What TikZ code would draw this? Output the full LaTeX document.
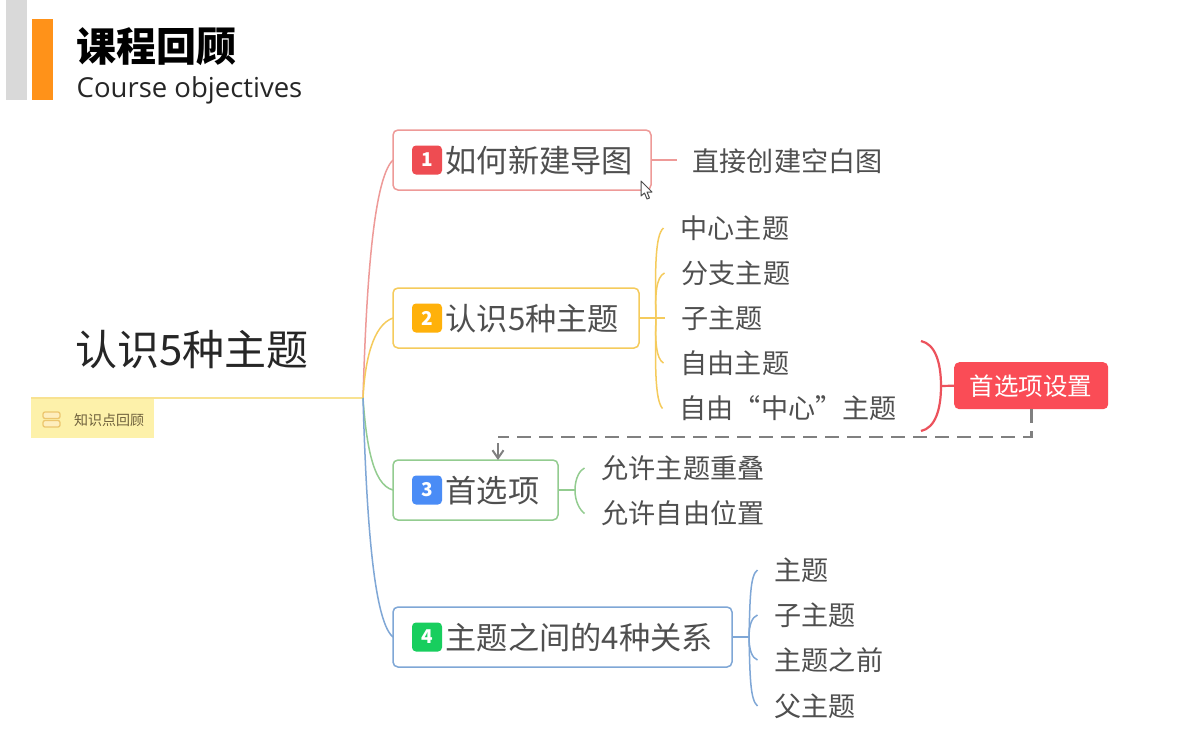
\documentclass[tikz,border=0pt]{standalone}
\usepackage{fontspec}
\setmainfont{Noto Sans CJK SC}
\newfontfamily\latinfont{Open Sans}
\usetikzlibrary{arrows.meta,calc}
\definecolor{cred}{HTML}{EE9A98}
\definecolor{cyel}{HTML}{F5CB5C}
\definecolor{cgrn}{HTML}{93CC90}
\definecolor{cblu}{HTML}{7FA7D6}
\definecolor{ink}{HTML}{4F4F4F}
\definecolor{bred}{HTML}{EE4C52}
\definecolor{byel}{HTML}{FFB10A}
\definecolor{bblu}{HTML}{4A8CF6}
\definecolor{bgrn}{HTML}{18CE5E}
\definecolor{brace}{HTML}{EC525C}
\definecolor{tagline}{HTML}{ECC66E}
\newcommand{\fs}[1]{\fontsize{#1}{#1}\selectfont}
\tikzset{
  x=1pt,y=-1pt,
  topicbox/.style={draw=#1,line width=1.5pt,rounded corners=5pt,fill=white,inner sep=0pt,outer sep=0pt},
  badge/.style={fill=#1,rounded corners=4pt,minimum width=30pt,minimum height=29pt,inner sep=0pt,text=white,font=\fs{19}\bfseries},
  topictext/.style={anchor=west,inner sep=0pt,text=ink,font=\fs{31.2}},
  leaf/.style={anchor=west,inner ysep=0pt,inner xsep=17pt,text=ink,font=\fs{27.1}},
  link/.style={draw=#1,line width=1.5pt},
}
\begin{document}
\begin{tikzpicture}
\useasboundingbox (0,0) rectangle (1179,729);
% header
\fill[white] (0,0) rectangle (1179,729);
\fill[black!15] (6,0) rectangle (27,100);
\fill[fill={rgb,255:red,255;green,146;blue,25}] (32,19) rectangle (53,100);
\node[anchor=west,inner sep=0pt,font=\fs{40}\bfseries] (title) at (76,47) {课程回顾};
\node[anchor=west,inner sep=0pt,font=\latinfont\fs{27.5},text=black!85] (sub) at (76.5,90.5) {Course objectives};
% root
\node[anchor=west,inner sep=0pt,font=\fs{42},text=black!85] (heading) at (75,350) {认识5种主题};
\node[anchor=north west,fill={rgb,255:red,253;green,241;blue,170},minimum width=123pt,minimum height=40pt,inner sep=0pt] (tag) at (31,398) {};
\draw[draw=tagline,fill={rgb,255:red,254;green,238;blue,190},line width=1.3pt,rounded corners=2pt] (43,412) rectangle (60,418.5);
\draw[draw=tagline,fill={rgb,255:red,254;green,238;blue,190},line width=1.3pt,rounded corners=2pt] (43,420.5) rectangle (60,427);
\node[anchor=west,inner sep=0pt,font=\fs{14},text={rgb,255:red,110;green,96;blue,60}] (tagtext) at (74,420) {知识点回顾};
\coordinate (root) at (363,398);
\draw[draw={rgb,255:red,248;green,226;blue,145},line width=2pt] (tag.north west) -- (root);
% topic boxes
\node[topicbox=cred,anchor=north west,minimum width=258pt,minimum height=60pt] (b1) at (393,130) {};
\node[topicbox=cyel,anchor=north west,minimum width=246pt,minimum height=60pt] (b2) at (393,288) {};
\node[topicbox=cgrn,anchor=north west,minimum width=165pt,minimum height=60pt] (b3) at (393,460) {};
\node[topicbox=cblu,anchor=north west,minimum width=339pt,minimum height=60pt] (b4) at (393,607) {};
\node[badge=bred] (n1) at (427,160) {1};
\node[badge=byel] (n2) at (427,318) {2};
\node[badge=bblu] (n3) at (427,490) {3};
\node[badge=bgrn] (n4) at (427,637) {4};
\node[topictext] (t1) at (445.5,161) {如何新建导图};
\node[topictext] (t2) at (445.5,318.5) {认识5种主题};
\node[topictext] (t3) at (445.5,491) {首选项};
\node[topictext] (t4) at (445.5,638) {主题之间的4种关系};
% root links
\draw[link=cred] (root) .. controls (366,300) and (372,180) .. (b1.west);
\draw[link=cyel] (root) .. controls (365,360) and (373,325) .. (b2.west);
\draw[link=cgrn] (root) .. controls (366,440) and (372,485) .. (b3.west);
\draw[link=cblu] (root) .. controls (366,500) and (372,620) .. (b4.west);
% topic 1
\node[leaf,inner xsep=16pt] (l11) at (676.5,161) {直接创建空白图};
\draw[link=cred] (b1.east) -- (b1.east -| l11.west);
% topic 2
\node[leaf] (l21) at (663.5,228) {中心主题};
\node[leaf] (l22) at (664.5,273) {分支主题};
\node[leaf] (l23) at (664.5,318) {子主题};
\node[leaf] (l24) at (663.5,363) {自由主题};
\node[leaf] (l25) at (662.5,408.5) {自由“中心”主题};
\coordinate (j2) at (656,318);
\draw[link=cyel] (b2.east) -- (l23.west);
\draw[link=cyel] (j2) .. controls (655,270) and (655,235) .. (l21.west);
\draw[link=cyel] (j2) .. controls (655,295) and (656,277) .. (l22.west);
\draw[link=cyel] (j2) .. controls (655,340) and (656,359) .. (l24.west);
\draw[link=cyel] (j2) .. controls (655,365) and (655,400) .. (l25.west);
% topic 3
\node[leaf] (l31) at (584.5,468) {允许主题重叠};
\node[leaf] (l32) at (584.5,513.5) {允许自由位置};
\coordinate (j3) at (575,490);
\draw[link=cgrn] (b3.east) -- (j3);
\draw[link=cgrn] (j3) .. controls (575,478) and (580,470) .. (l31.west);
\draw[link=cgrn] (j3) .. controls (575,502) and (580,510) .. (l32.west);
% topic 4
\node[leaf] (l41) at (757.5,570) {主题};
\node[leaf] (l42) at (757.5,615) {子主题};
\node[leaf] (l43) at (757.5,660) {主题之前};
\node[leaf] (l44) at (757.5,706) {父主题};
\coordinate (j4) at (749,637);
\draw[link=cblu] (b4.east) -- (j4);
\draw[link=cblu] (j4) .. controls (750,600) and (750,575) .. (l41.west);
\draw[link=cblu] (j4) .. controls (749,625) and (752,617) .. (l42.west);
\draw[link=cblu] (j4) .. controls (749,650) and (752,658) .. (l43.west);
\draw[link=cblu] (j4) .. controls (750,675) and (750,700) .. (l44.west);
% preference callout
\node[anchor=north west,fill={rgb,255:red,250;green,76;blue,86},rounded corners=5pt,minimum width=154pt,minimum height=47pt,inner sep=0pt,text=white,font=\fs{24.5}] (pref) at (954,362) {首选项设置};
\coordinate (bt) at (921,341);
\coordinate (bb) at (921,431);
\coordinate (bm) at (941,386);
\draw[draw=brace,line width=2.2pt] (bt) .. controls (935,344) and (941,362) .. (941,386) .. controls (941,410) and (935,428) .. (bb);
\draw[draw=brace,line width=2.2pt] (bm) -- (pref.west);
% dashed relation
\coordinate (turn) at (498,437);
\draw[draw=black!50,line width=2.8pt,dash pattern=on 14pt off 8pt] (pref.south) |- (turn);
\draw[draw=black!50,line width=2pt,shorten <=6pt,-{Straight Barb[length=8pt,width=11pt]}] (turn) -- (turn |- b3.north);
% mouse pointer
\draw[draw=black!70,fill=white,line width=1pt,line join=round] (641,181) -- (641,196) -- (644.5,193) -- (647,199) -- (649.5,198) -- (647,192) -- (652,192) -- cycle;
\end{tikzpicture}
\end{document}
